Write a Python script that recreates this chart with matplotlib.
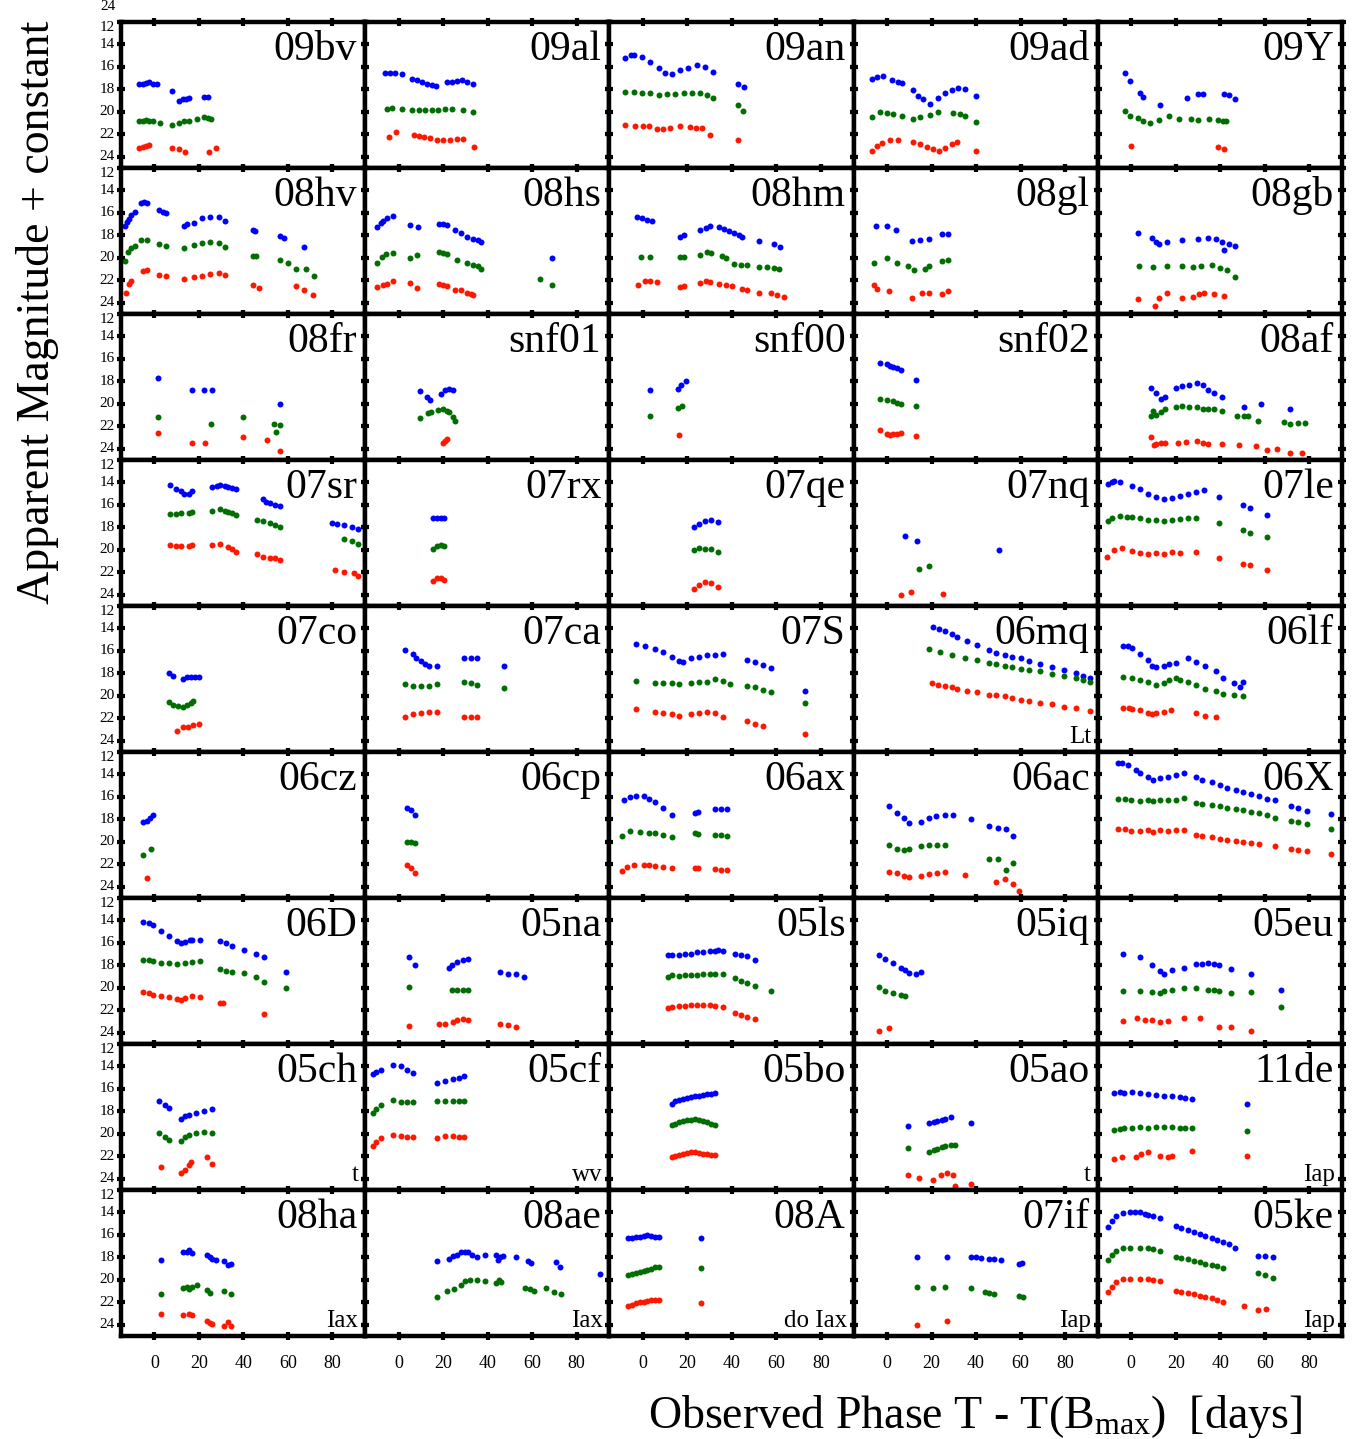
import matplotlib
matplotlib.use('Agg')
import matplotlib.pyplot as plt

plt.rcParams['font.family'] = ['Liberation Serif', 'DejaVu Serif']
plt.rcParams['mathtext.fontset'] = 'custom'
plt.rcParams['mathtext.rm'] = 'Liberation Serif'
plt.rcParams['mathtext.it'] = 'Liberation Serif:italic'

# ---------------- data: (phase [days], magnitude) ----------------
b_09bv = [(-6.7,17.55),(-5.2,17.5),(-3.7,17.45),(-2.2,17.35),(-0.7,17.5),(1.0,17.55),(7.9,18.1),(10.9,19.0),(12.7,18.9),(14.2,18.85),(15.7,18.8),(22.4,18.7),(23.9,18.65)]
g_09bv = [(-6.7,20.85),(-5.2,20.8),(-3.7,20.75),(-2.2,20.8),(-0.7,20.8),(2.7,21.0),(7.9,21.15),(10.9,21.0),(13.5,20.8),(15.5,20.8),(19,20.6),(22.4,20.45),(23.9,20.55),(25.4,20.65)]
r_09bv = [(-6.7,23.25),(-5.2,23.15),(-3.7,23.05),(-2.2,22.95),(7.9,23.2),(10.9,23.35),(13.9,23.6),(24.6,23.6),(27.6,23.25)]

b_09al = [(-6.0,16.55),(-3.7,16.55),(-1.5,16.55),(1.5,16.6),(6,17.1),(8.2,17.2),(10.4,17.35),(12.7,17.5),(14.9,17.65),(16.9,17.7),(21.6,17.35),(23.9,17.3),(26.1,17.25),(28.4,17.2),(30.6,17.35),(33.6,17.5)]
g_09al = [(-5.2,19.75),(-3,19.7),(1.5,19.75),(6,19.8),(9,19.8),(11.9,19.85),(14.9,19.85),(17.9,19.8),(20.9,19.75),(23.9,19.75),(29.1,19.8),(33.6,20.0)]
r_09al = [(-4.5,22.25),(-1,21.8),(6.7,22.1),(9,22.15),(11.2,22.2),(14.2,22.3),(17.2,22.5),(20.1,22.55),(23.1,22.5),(26.1,22.45),(29.1,22.4),(33.9,23.1)]

b_09an = [(-7.8,15.2),(-5.5,14.95),(-4.1,14.9),(-0.4,15.15),(3.4,15.55),(7.1,16.1),(10.1,16.5),(13.1,16.6),(16.8,16.25),(20.5,16.1),(24.3,15.85),(28,16.0),(31.7,16.45),(42.9,17.55),(45.6,17.75)]
g_09an = [(-7.8,18.2),(-4.1,18.2),(-0.4,18.3),(3.4,18.3),(7.1,18.5),(10.8,18.45),(14.6,18.4),(18.3,18.35),(22.0,18.3),(25.7,18.35),(28.7,18.5),(31.7,18.75),(42.9,19.4),(45.1,19.9)]
r_09an = [(-7.8,21.15),(-3.4,21.25),(0,21.3),(2.6,21.3),(6.3,21.55),(9.3,21.5),(12.3,21.4),(16.8,21.3),(21.3,21.35),(24,21.4),(26.5,21.45),(30.2,22.1),(42.9,22.55)]

b_09ad = [(-6.8,17.05),(-4.6,16.9),(-1.6,16.8),(2.2,17.15),(5.1,17.3),(6.6,17.45),(11.9,18.05),(14.1,18.6),(16.3,18.9),(19.3,19.3),(23.1,18.8),(26,18.3),(29,18.05),(32,17.9),(35,18.0),(40.2,18.6)]
g_09ad = [(-6.8,20.5),(-3.1,20.0),(0.2,20.1),(2.9,20.2),(6.6,20.35),(11.9,20.65),(15,20.5),(19.3,20.3),(23,20.05),(29.7,20.1),(32.7,20.2),(35,20.35),(40.2,20.9)]
r_09ad = [(-6.8,23.45),(-4.6,23.0),(-2.3,22.8),(1.4,22.5),(5.1,22.5),(11.9,22.7),(15,22.9),(18,23.1),(20.8,23.3),(23.3,23.45),(26,23.2),(29,22.9),(31.5,22.7),(40,23.45)]

b_09Y = [(-2.9,16.5),(-0.7,17.25),(3.8,18.3),(5.3,18.65),(13.1,19.35),(25.0,18.8),(29.9,18.45),(32.2,18.45),(41.9,18.45),(44.1,18.5),(46.8,18.85)]
g_09Y = [(-2.9,19.9),(-0.7,20.35),(3.1,20.55),(5.3,20.85),(8.3,21.0),(12.5,20.7),(17.2,20.35),(21.4,20.65),(27.0,20.6),(29.9,20.7),(35.1,20.65),(38.8,20.75),(41.2,20.85),(42.6,20.85)]
r_09Y = [(-0.1,23.0),(38.9,23.15),(41.9,23.3)]

b_08hv = [(-13.4,17.2),(-12.5,16.8),(-11.5,16.5),(-10.6,16.2),(-8.8,15.95),(-6.1,15.1),(-4.7,15.05),(-3.3,15.15),(2.2,15.75),(4.0,15.9),(5.0,16.05),(13.2,17.15),(14.8,17.0),(17.8,16.9),(21.5,16.45),(25.1,16.35),(28.8,16.4),(31.6,16.7),(44.4,17.55),(45.0,17.6),(56.3,18.05),(58.2,18.2),(67.0,19.0)]
g_08hv = [(-13.4,20.3),(-12,19.5),(-10.6,19.15),(-8.8,18.95),(-6.1,18.45),(-3.3,18.4),(2.2,18.8),(5.0,18.95),(13.2,19.1),(17.8,18.85),(21.5,18.7),(25.1,18.6),(28.8,18.65),(31.6,19.05),(44.4,19.8),(45.5,19.8),(56.3,20.2),(59.9,20.45),(63.7,20.95),(68.3,21.0),(71.9,21.6)]
r_08hv = [(-12.8,23.15),(-11.5,22.35),(-10.6,22.1),(-5.1,21.2),(-3.3,21.05),(2.2,21.5),(5.0,21.65),(13.2,21.85),(17.8,21.7),(21.5,21.6),(25.1,21.45),(28.8,21.35),(31.6,21.5),(44.4,22.45),(47.2,22.65),(63.7,22.55),(67.0,22.85),(71.4,23.3)]

b_08hs = [(-9.5,17.25),(-7.8,16.9),(-6.8,16.7),(-5,16.45),(-2.6,16.3),(5.1,17.1),(8.8,17.25),(18,16.95),(19.8,17.0),(21.7,17.1),(25.3,17.5),(28.1,17.75),(30.8,18.1),(33.6,18.3),(35.5,18.45),(37.2,18.6),(69.0,20.0)]
g_08hs = [(-9.5,20.45),(-7.5,19.9),(-5.5,19.65),(-2.6,19.55),(5.1,20.05),(8.4,19.75),(18,19.45),(19.8,19.55),(21.7,19.7),(26.2,20.15),(30.8,20.5),(33.6,20.6),(35.5,20.7),(37.2,20.95),(63.5,21.85),(69.0,22.45)]
r_08hs = [(-9.5,22.6),(-6.8,22.45),(-5.0,22.3),(-2.6,22.05),(5.1,22.2),(8.4,22.65),(18.0,22.35),(19.8,22.45),(21.7,22.55),(25.3,22.85),(28.1,22.85),(30.8,23.1),(32.7,23.2),(33.6,23.3)]

b_08hm = [(-2.5,16.35),(-0.3,16.45),(1.9,16.6),(4.2,16.7),(16.9,18.15),(18.4,18.0),(25.9,17.55),(28.2,17.35),(30.4,17.15),(34.2,17.25),(36.4,17.4),(38.7,17.6),(40.9,17.8),(43.2,17.95),(44.7,18.15),(52.2,18.5),(58.9,18.8),(61.6,19.0)]
g_08hm = [(-1.0,19.95),(3.4,19.95),(16.9,19.95),(18.4,19.9),(25.9,19.75),(29,19.5),(30.5,19.6),(35.7,19.85),(37.2,20.05),(40.9,20.55),(43.9,20.65),(46.9,20.6),(52.2,20.8),(55.9,20.85),(58.9,20.9),(61.2,20.95)]
r_08hm = [(-2.2,22.45),(1.2,22.1),(3.4,22.05),(6.3,22.15),(16.9,22.6),(18.4,22.55),(25.9,22.25),(28.2,22.1),(30.4,22.15),(34.2,22.35),(37.2,22.4),(40.1,22.5),(44.7,22.75),(46.9,22.85),(52.2,23.1),(57.4,23.15),(60.4,23.35),(63.4,23.45)]

b_08gl = [(-4.9,17.15),(-0.2,17.2),(4.0,17.55),(11.2,18.5),(15.0,18.45),(18.8,18.3),(24.5,17.9),(27.3,17.85)]
g_08gl = [(-5.9,20.45),(-0.2,20.0),(4.6,20.5),(9.3,20.7),(12.1,21.05),(16.9,21.0),(18.8,20.75),(24.5,20.3),(27.3,20.15)]
r_08gl = [(-5.9,22.45),(-4.3,22.75),(0.8,22.95),(11.2,23.55),(15.9,23.15),(18.8,23.1),(24.5,23.2),(27.3,22.95)]

b_08gb = [(3.0,17.75),(9.3,18.25),(11,18.55),(12.5,18.75),(16.3,18.6),(23.0,18.4),(30.2,18.3),(34.3,18.25),(38.1,18.3),(41.0,18.55),(41.9,19.3),(43.8,18.75),(46.7,18.95)]
g_08gb = [(3.6,20.7),(9.7,20.8),(16.3,20.75),(23.0,20.75),(27.7,20.85),(31.5,20.7),(36.2,20.6),(40.0,20.9),(43,21.1),(46.7,21.7)]
r_08gb = [(3.0,23.7),(10.6,24.3),(12.5,23.55),(16.3,23.15),(23,23.55),(27.7,23.5),(30.5,23.2),(32.5,23.15),(37.2,23.2),(41.9,23.4)]

b_08fr = [(1.8,17.7),(16.9,18.8),(22.4,18.8),(26.1,18.8),(56.3,20.05)]
g_08fr = [(1.8,21.15),(25.5,21.8),(39.8,21.2),(53.6,21.75),(54.5,22.5),(56.3,21.85)]
r_08fr = [(1.8,22.6),(16.9,23.5),(22.9,23.5),(39.8,22.95),(50.5,23.25),(56.3,24.2)]

b_snf01 = [(9.4,18.85),(12.8,19.35),(13.9,19.7),(18.9,19.1),(20.7,18.8),(22.6,18.7),(24.4,18.8)]
g_snf01 = [(9.4,21.25),(13.4,20.85),(14.7,20.75),(17.6,20.55),(19.8,20.5),(21.7,20.6),(22.6,20.75),(24.4,21.15),(25.3,21.55)]
r_snf01 = [(19.8,23.45),(21.0,23.3),(21.7,23.1)]

b_snf00 = [(3.1,18.8),(15.7,18.7),(17.2,18.35),(19.2,18.0)]
g_snf00 = [(3.1,21.05),(15.7,20.4),(17.7,20.2)]
r_snf00 = [(16.2,22.75)]

b_snf02 = [(-3.0,16.4),(-0.2,16.45),(1.5,16.6),(2.7,16.7),(4.6,16.85),(6.5,17.0),(13.1,17.9)]
g_snf02 = [(-3.0,19.55),(-0.2,19.65),(2.7,19.75),(4.6,19.9),(6.5,20.0),(13.1,20.15)]
r_snf02 = [(-3.0,22.3),(-0.2,22.65),(1.5,22.75),(2.7,22.7),(4.6,22.65),(6.5,22.6),(13.1,22.9)]

b_08af = [(8.7,18.55),(11.2,19.0),(13.5,19.6),(15.4,19.35),(20.1,18.6),(23.0,18.4),(25.8,18.35),(29.6,18.1),(32.4,18.3),(34.3,18.75),(37.2,19.0),(41.0,19.4),(50.5,20.3),(58.1,20.0),(71.3,20.45)]
g_08af = [(8.7,21.05),(10,20.6),(11.2,21.0),(13.5,20.7),(15.4,20.5),(20.1,20.25),(23.0,20.2),(25.8,20.25),(29.6,20.3),(32.4,20.45),(34.3,20.5),(37.2,20.5),(41.0,20.6),(47.7,21.1),(50.5,21.05),(52.4,21.1),(57.1,21.5),(68.5,21.65),(71.3,21.8),(75,21.7),(77.9,21.7)]
r_08af = [(8.7,22.95),(10.4,23.7),(11.2,23.6),(13.5,23.5),(15.4,23.45),(21.1,23.45),(24.8,23.4),(29.6,23.3),(32.4,23.45),(34.3,23.6),(41.0,23.6),(48.6,23.65),(56.2,23.75),(60.9,24.15),(65.6,24.05),(71.3,24.35),(76.9,24.4)]

b_07sr = [(7.1,14.25),(9.5,14.55),(11.8,14.8),(13.5,15.0),(15.4,15.0),(17.1,14.8),(26.1,14.4),(28,14.3),(29.6,14.25),(31.5,14.3),(33.2,14.4),(35,14.5),(36.8,14.6),(48.6,15.5),(50,15.7),(52.1,15.85),(54,16.0),(56.4,16.1),(79.6,17.6),(82,17.7),(85.0,17.8),(88.6,18.0),(91.4,18.15)]
g_07sr = [(7.1,16.8),(9.5,16.8),(11.8,16.75),(15.4,16.7),(17.1,16.65),(26.1,16.5),(29.6,16.4),(31.5,16.5),(33.2,16.6),(35,16.75),(36.8,16.9),(46,17.3),(48.6,17.45),(52.1,17.6),(54,17.8),(56.4,17.95),(85.0,19.0),(88.6,19.2),(91.4,19.45)]
r_07sr = [(7.1,19.6),(9.5,19.7),(11.8,19.7),(15.4,19.65),(17.1,19.6),(26.1,19.55),(29.6,19.5),(33.2,19.75),(35,19.95),(36.8,20.15),(46,20.4),(48.6,20.6),(52.1,20.7),(54,20.75),(56.4,20.9),(81,21.8),(85,22.0),(89.5,22.05),(91.4,22.35)]

b_07rx = [(15.4,17.2),(17.1,17.15),(18.9,17.15),(20.5,17.2)]
g_07rx = [(15.4,19.95),(17.1,19.7),(18.9,19.6),(20.5,19.7)]
r_07rx = [(15.4,22.75),(17.1,22.55),(18.9,22.5),(20.5,22.65)]

b_07qe = [(22.9,18.0),(25.4,17.7),(27.9,17.45),(30.7,17.35),(33.6,17.55)]
g_07qe = [(22.9,20.0),(25.4,19.85),(27.9,19.9),(30.7,19.95),(33.6,20.2)]
r_07qe = [(22.9,23.45),(25.4,23.1),(27.9,22.9),(30.7,22.95),(33.6,23.35)]

b_07nq = [(8.2,18.8),(13.6,19.2),(50.4,20.05)]
g_07nq = [(14.3,21.7),(18.9,21.4)]
r_07nq = [(6.4,24.0),(10.7,23.75),(25.0,23.9)]

b_07le = [(-10.4,14.1),(-8.5,13.95),(-7.5,13.9),(-5.0,13.95),(0.4,14.3),(3.9,14.6),(7.5,15.0),(11.1,15.3),(14.6,15.5),(18.2,15.4),(21.8,15.2),(25.4,15.05),(28.9,14.85),(32.5,14.65),(39.6,15.3),(50.4,16.05),(53.2,16.25),(61.1,16.9)]
g_07le = [(-10.4,17.45),(-8.5,17.15),(-5.0,17.0),(-2,17.05),(0.4,17.1),(3.9,17.2),(7.5,17.3),(11.1,17.35),(14.6,17.4),(18.2,17.3),(21.8,17.25),(25.4,17.2),(28.9,17.2),(39.6,17.6),(50.4,18.25),(53.2,18.5),(61.1,18.9)]
r_07le = [(-11,20.65),(-7.5,20.0),(-4,19.85),(0.4,20.1),(3.9,20.25),(7.5,20.35),(11.1,20.3),(14.6,20.35),(18.2,20.2),(21.8,20.25),(28.9,20.15),(39.6,20.75),(50.4,21.3),(53.2,21.35),(61.1,21.8)]

b_07co = [(6.4,18.0),(8.2,18.25),(12.9,18.5),(14.5,18.3),(16.4,18.3),(18.2,18.3),(20,18.3)]
g_07co = [(6.4,20.55),(8.2,20.8),(10.6,20.9),(12.9,20.95),(14.5,20.85),(16.4,20.65),(17.5,20.5)]
r_07co = [(10,23.1),(12.9,22.8),(15,22.75),(17.5,22.6),(20,22.5)]

b_07ca = [(2.9,15.95),(6.4,16.3),(8,16.6),(10.0,16.9),(11.8,17.2),(13.6,17.3),(17.1,17.3),(29.6,16.65),(32.5,16.6),(35.0,16.65),(47.5,17.3)]
g_07ca = [(2.9,18.95),(6.4,19.1),(10.0,19.15),(13.6,19.1),(17.1,18.95),(29.6,18.8),(32.5,18.9),(35.0,19.05),(47.5,19.3)]
r_07ca = [(2.9,21.85),(6.4,21.6),(10.0,21.5),(13.6,21.45),(17.1,21.45),(29.6,21.85),(32.5,21.85),(35,21.85)]

b_07S = [(-3.2,15.4),(1.0,15.6),(5.7,15.85),(9.3,16.1),(12.9,16.5),(16.4,16.9),(18.2,16.95),(21.8,16.6),(25.4,16.5),(28.9,16.4),(32.5,16.35),(36.1,16.3),(46.8,16.8),(50.4,17.0),(53.9,17.25),(57.5,17.55),(72.9,19.6)]
g_07S = [(-3.2,18.7),(5.7,18.85),(9.3,18.9),(12.9,18.9),(16.4,18.95),(21.8,18.85),(25.4,18.75),(28.9,18.75),(32.5,18.5),(36.1,18.7),(39,18.95),(46.8,19.1),(50.4,19.2),(53.9,19.5),(57.5,19.7),(72.9,20.65)]
r_07S = [(-3.2,21.2),(5.7,21.4),(9.3,21.55),(12.9,21.65),(16.4,21.75),(21.8,21.65),(25.4,21.5),(28.9,21.45),(32.5,21.5),(36.1,21.9),(46.8,22.25),(50.4,22.55),(53.9,22.7),(72.9,23.4)]

b_06mq = [(20.7,13.87),(23.5,14.05),(26.1,14.25),(29,14.5),(31.4,14.75),(36,15.1),(40.4,15.43),(45.7,15.93),(49,16.15),(52.9,16.38),(56,16.5),(60.0,16.67),(64,16.9),(68.9,17.12),(74.3,17.41),(79.6,17.7),(85.0,18.0),(88,18.2),(91.4,18.44)]
g_06mq = [(19,15.8),(24,16.1),(29,16.35),(35,16.6),(40.4,16.85),(45.7,17.05),(49,17.2),(52.9,17.3),(56,17.45),(60.0,17.6),(64,17.7),(68.9,17.8),(74.3,18.05),(79.6,18.2),(85.0,18.45),(88,18.6),(91.4,18.75)]
r_06mq = [(20,18.85),(23,19.0),(26.1,19.1),(29,19.25),(31.4,19.35),(36,19.55),(40.4,19.7),(45.7,19.9),(49,19.95),(52.9,20.05),(56,20.2),(60.0,20.35),(64,20.45),(68.9,20.6),(74.3,20.75),(79.6,20.95),(85.0,21.1),(91.4,21.35)]

b_06lf = [(-3.9,15.55),(-1.5,15.6),(0.4,15.75),(3.9,16.3),(7.5,16.85),(9.5,17.3),(11.1,17.4),(14.6,17.3),(17,17.2),(20.0,17.05),(25.4,16.6),(28.9,16.95),(33.2,17.35),(37.9,17.75),(41.4,18.4),(46.1,18.9),(49,19.2),(50.4,18.75)]
g_06lf = [(-3.9,18.3),(0.4,18.45),(3.9,18.6),(7.5,18.75),(11.1,19.0),(14.6,18.85),(17,18.6),(20,18.4),(22,18.6),(25.4,18.75),(28.9,19.05),(33.2,19.35),(37.9,19.55),(41.4,19.8),(46.1,19.9),(50.4,20.0)]
r_06lf = [(-3.9,21.1),(-1,21.05),(0.4,21.2),(3.9,21.3),(7.5,21.5),(9.5,21.65),(11.1,21.5),(14.6,21.4),(18,21.3),(28.9,21.55),(33.2,21.75),(37.9,21.9)]

b_06cz = [(-5.0,18.2),(-3.5,18.1),(-2.0,17.85),(-0.7,17.6)]
g_06cz = [(-5.0,21.2),(-1.4,20.65)]
r_06cz = [(-3.2,23.25)]

b_06cp = [(3.9,17.0),(5.5,17.15),(7.5,17.6)]
g_06cp = [(3.9,20.0),(5.5,20.05),(7.5,20.1)]
r_06cp = [(3.9,22.05),(5.5,22.3),(7.5,22.75)]

b_06ax = [(-8.6,16.25),(-5.7,16.0),(-3.2,15.9),(0.4,15.95),(3,16.2),(5.7,16.45),(9.3,16.95),(12.9,17.6),(23.6,17.4),(25,17.3),(32.5,17.1),(35,17.05),(37.9,17.05)]
g_06ax = [(-9.3,19.5),(-5.7,19.0),(-1.4,19.15),(3,19.2),(5.7,19.25),(9.3,19.4),(12.9,19.55),(23.6,19.2),(25,19.3),(32.5,19.35),(35,19.4),(37.9,19.5)]
r_06ax = [(-9.3,22.6),(-7,22.2),(-4,22.05),(0.4,22.05),(3,22.1),(5.7,22.15),(9.3,22.2),(12.9,22.3),(23.6,22.35),(25,22.3),(32.5,22.45),(35,22.5),(37.9,22.55)]

b_06ac = [(1.1,16.85),(4.6,17.4),(7.5,17.9),(10,18.3),(15.4,18.2),(18.9,17.85),(22,17.7),(26.1,17.6),(29.6,17.65),(37.9,17.95),(45.7,18.55),(50,18.8),(53.6,18.9),(56.4,19.45)]
g_06ac = [(1.1,20.3),(4.6,20.6),(7.5,20.75),(10,20.65),(15.4,20.35),(18.9,20.25),(22.5,20.3),(26.1,20.25),(45.7,21.5),(50,21.5),(53.6,22.5),(56.4,21.9)]
r_06ac = [(1.1,22.7),(4.6,22.8),(7.5,23.0),(10,23.1),(15.4,23.0),(18.9,22.9),(22.5,22.8),(26.1,22.7),(35,22.95),(49,23.6),(52.9,23.3),(56.4,23.75),(59.3,24.35)]

b_06X = [(-6.1,13.0),(-4,12.95),(-1.4,13.2),(2,13.6),(3.9,13.85),(7.5,14.25),(10,14.45),(12.9,14.35),(16.4,14.25),(20,14.05),(23.6,13.9),(28.9,14.2),(32,14.45),(36.1,14.7),(40,14.95),(43.2,15.2),(47,15.35),(50.4,15.55),(54,15.75),(57.5,15.95),(61,16.15),(64.6,16.3),(71.8,16.85),(75,17.0),(78.9,17.25),(89.6,17.55)]
g_06X = [(-6.1,16.15),(-3,16.2),(0,16.25),(3.9,16.35),(7.5,16.3),(10,16.4),(12.9,16.3),(16.4,16.25),(20,16.3),(23.6,16.1),(28.9,16.5),(32,16.65),(36.1,16.75),(40,16.85),(43.2,17.0),(47,17.1),(50.4,17.2),(54,17.3),(57.5,17.45),(61,17.6),(64.6,17.85),(71.8,18.1),(75,18.25),(78.9,18.4),(89.6,18.9)]
r_06X = [(-6.1,18.85),(-3,18.9),(0,19.0),(3.9,19.05),(7.5,18.95),(10,19.1),(12.9,18.95),(16.4,19.0),(20,18.95),(23.6,18.95),(28.9,19.4),(32,19.5),(36.1,19.55),(40,19.75),(43.2,19.8),(47,19.9),(50.4,20.05),(54,20.1),(57.5,20.15),(64.6,20.35),(71.8,20.6),(75,20.75),(78.9,20.85),(89.6,21.1)]

b_06D = [(-5.0,14.15),(-2.5,14.25),(-0.7,14.4),(2.9,14.9),(6.4,15.4),(10,15.8),(12,16.0),(13.6,15.9),(16,15.75),(17.1,15.7),(20.7,15.7),(29.6,15.85),(32,16.05),(35,16.3),(40.4,16.6),(45.7,16.95),(49.3,17.25),(59.3,18.55)]
g_06D = [(-5.0,17.5),(-2.5,17.55),(-0.7,17.65),(2.9,17.75),(6.4,17.8),(10,17.85),(13.6,17.75),(17.1,17.7),(20.7,17.65),(29.6,18.35),(32,18.5),(35,18.55),(40.4,18.7),(45.7,19.0),(49.3,19.45),(59.3,20.05)]
r_06D = [(-5.0,20.4),(-2.5,20.5),(-0.7,20.6),(2.9,20.75),(6.4,20.85),(10,21.0),(12,21.05),(13.6,20.9),(17.1,20.75),(20.7,20.8),(29.6,21.35),(31,21.35),(49.3,22.3)]

b_05na = [(4.6,17.25),(7.5,17.95),(22.5,18.2),(24,18.0),(26.1,17.7),(28.9,17.55),(31.4,17.4),(45.7,18.55),(49.3,18.8),(52.9,18.75),(56.4,19.0)]
g_05na = [(4.6,19.95),(24,20.15),(26.1,20.15),(28.9,20.15),(31,20.15)]
r_05na = [(4.6,23.4),(18.2,23.25),(21,23.2),(24.4,23.05),(26.1,22.9),(28.9,22.75),(31,22.9),(45.7,23.25),(49.3,23.35),(52.9,23.5)]

b_05ls = [(11.1,17.05),(13,17.1),(16.4,17.05),(19,17.0),(21.8,16.95),(24.5,16.85),(27.1,16.8),(30,16.7),(32.5,16.75),(34,16.65),(36.1,16.7),(41.4,16.95),(44,17.1),(46.8,17.2),(50.4,17.5)]
g_05ls = [(11.1,19.0),(13,18.9),(16.4,18.95),(19,18.85),(21.8,18.85),(24.5,18.9),(27.1,18.8),(30,18.75),(32.5,18.8),(36.1,18.75),(41.4,19.1),(44,19.35),(46.8,19.55),(50.4,19.8),(57.5,20.25)]
r_05ls = [(11.1,21.8),(13,21.7),(16.4,21.65),(19,21.6),(21.8,21.55),(24.5,21.55),(27.1,21.5),(30,21.55),(32.5,21.6),(36.1,21.7),(41.4,22.2),(44,22.45),(46.8,22.6),(50.4,22.75)]

b_05iq = [(-3.6,17.05),(-0.7,17.45),(2.9,17.8),(6.4,18.2),(8,18.45),(10,18.7),(12.9,18.75),(15.4,18.6)]
g_05iq = [(-3.6,19.95),(-0.7,20.3),(2.9,20.45),(6.4,20.65),(8,20.7)]
r_05iq = [(-3.6,23.8),(1.1,23.6)]

b_05eu = [(-3.9,17.0),(3.9,17.25),(9.3,18.0),(12.9,18.5),(14.6,18.75),(18.2,18.45),(23.6,18.2),(28.9,17.9),(32,17.85),(34.3,17.8),(37,17.9),(39.6,17.95),(45.0,18.3),(53.9,18.8),(67.5,20.2)]
g_05eu = [(-3.9,20.3),(3.9,20.25),(9.3,20.4),(12.9,20.45),(14.6,20.3),(18.2,20.2),(23.6,20.05),(28.9,20.05),(34.3,20.15),(37,20.2),(39.6,20.3),(45,20.45),(53.9,20.4),(67.5,21.7)]
r_05eu = [(-3.9,22.95),(2.5,22.65),(6,22.9),(9.3,22.85),(12.9,23.05),(16.4,22.95),(23.6,22.65),(30.7,22.65),(39.6,23.5),(45.0,23.5),(53.9,23.8)]

b_05ch = [(2.1,17.05),(4.6,17.4),(6.4,17.7),(11.8,18.65),(13.6,18.45),(15.4,18.3),(18.9,18.1),(22.5,17.95),(26.1,17.8)]
g_05ch = [(2.1,19.95),(4.6,20.3),(6.4,20.55),(11.8,20.6),(13.6,20.3),(15.4,20.1),(18.9,19.9),(22.5,19.85),(26.1,19.95)]
r_05ch = [(2.9,22.95),(11.8,23.5),(13.6,23.25),(15.4,22.8),(16.5,22.55),(23.6,22.1),(26.1,22.65)]

b_05cf = [(-11.4,14.7),(-10,14.5),(-7.9,14.35),(-2.5,13.85),(1.1,14.0),(3.9,14.3),(6.4,14.55),(17.1,15.45),(20.7,15.3),(24.3,15.1),(27,15.0),(29.6,14.85)]
g_05cf = [(-11.4,18.1),(-10,17.8),(-7.9,17.45),(-2.5,17.0),(1.1,17.15),(3.9,17.2),(6.4,17.2),(17.1,17.1),(20.7,17.05),(24.3,17.05),(27,17.05),(29.6,17.1)]
r_05cf = [(-11.4,21.05),(-10,20.75),(-7.9,20.4),(-2.5,20.1),(1.1,20.15),(3.9,20.25),(6.4,20.25),(17.1,20.35),(20.7,20.2),(24.3,20.15),(27,20.25),(29.6,20.3)]

b_05bo = [(12.9,17.3),(14.5,17.1),(16.4,17.0),(18,16.9),(20,16.8),(21.8,16.7),(23.6,16.65),(25.4,16.6),(27.1,16.55),(29,16.45),(30.7,16.45),(32.5,16.4)]
g_05bo = [(12.9,19.25),(14.5,19.1),(16.4,18.95),(18,18.9),(20,18.8),(21.8,18.75),(23.6,18.7),(25.4,18.75),(27.1,18.85),(29,18.95),(30.7,19.1),(32.5,19.2)]
r_05bo = [(12.9,22.05),(14.5,21.95),(16.4,21.85),(18,21.75),(20,21.7),(21.8,21.65),(23.6,21.65),(25.4,21.7),(27.1,21.75),(29,21.8),(30.7,21.85),(32.5,21.9)]

b_05ao = [(9.3,19.3),(18.9,19.05),(21,18.95),(22.5,18.9),(24.5,18.75),(26.1,18.65),(28.6,18.5),(37.9,19.05)]
g_05ao = [(9.3,21.25),(18.9,21.6),(21,21.45),(22.5,21.35),(24.5,21.2),(26.1,21.1),(28.6,20.95),(30.5,20.95)]
r_05ao = [(9.3,23.7),(14.3,23.9),(20.7,24.1),(24.3,23.65),(27,23.5),(29.6,23.7),(30.7,24.6),(37.9,24.45)]

b_11de = [(-7.5,16.35),(-5,16.3),(-3.2,16.35),(0.4,16.3),(3.9,16.4),(7.5,16.45),(11.1,16.5),(14.6,16.6),(18.2,16.65),(21.8,16.7),(24,16.8),(27.1,16.9),(52.1,17.3)]
g_11de = [(-7.5,19.65),(-5,19.55),(-3.2,19.5),(0.4,19.45),(3.9,19.4),(7.5,19.45),(11.1,19.4),(14.6,19.35),(18.2,19.4),(21.8,19.45),(24,19.45),(27.1,19.5),(52.1,19.75)]
r_11de = [(-7.5,22.2),(-4,22.05),(2,22.05),(4.5,21.8),(7.5,21.6),(12.9,22.0),(16.4,22.1),(18.2,21.95),(27.1,21.55),(52.1,22.0)]

b_08ha = [(2.9,18.2),(12.9,17.55),(14.5,17.5),(15.4,17.35),(17.1,17.6),(23.6,17.8),(25,18.0),(26.1,18.15),(27.9,18.2),(31.4,18.35),(33,18.7),(34.3,18.6)]
g_08ha = [(2.9,21.25),(12.9,20.75),(14.5,20.65),(15.4,20.85),(17.1,20.65),(19,20.5),(23.6,20.9),(25,21.15),(31.4,20.95),(34.3,21.3)]
r_08ha = [(2.9,23.0),(12.9,23.1),(15.4,23.05),(17.1,23.1),(23.6,23.7),(25,23.85),(26.1,23.9),(31.4,24.1),(33,23.75),(34.3,24.1)]

b_08ae = [(17.1,18.35),(22.5,18.1),(24.3,17.9),(26.1,17.75),(27.9,17.55),(30,17.5),(31.4,17.55),(33.2,17.75),(35,17.95),(38.6,17.8),(43.9,17.75),(44.5,18.2),(45.7,17.95),(47,17.9),(52.9,18.0),(58.2,18.35),(59.5,18.5),(70.7,18.4),(72.5,18.85),(90.4,19.5)]
g_08ae = [(17.1,21.5),(21.8,21.0),(25,20.8),(27.9,20.45),(30,20.1),(32,20.05),(35,20.05),(38.6,20.1),(43.9,20.25),(45,20.0),(46,20.15),(57,20.75),(59,20.85),(61,20.95),(66,20.7),(70,21.1),(73,21.25)]
r_08ae = []

b_08A = [(-6.8,16.3),(-5,16.25),(-3.2,16.2),(-1.4,16.15),(0.4,16.1),(2,16.05),(3.9,16.1),(5.7,16.15),(7.5,16.2),(26.1,16.25)]
g_08A = [(-6.8,19.55),(-5,19.5),(-3.2,19.4),(-1.4,19.3),(0.4,19.2),(2,19.1),(3.9,19.0),(5.7,18.9),(7.5,18.85),(26.1,18.95)]
r_08A = [(-6.8,22.35),(-5,22.25),(-3.2,22.1),(-1.4,22.0),(0.4,21.95),(2,21.85),(3.9,21.8),(5.7,21.8),(7.5,21.8),(26.1,22.05)]

b_07if = [(13.6,17.95),(27.1,18.0),(37.9,17.95),(40,18.0),(42.1,18.05),(45.7,18.1),(48,18.15),(51.1,18.25),(59.3,18.6),(60.5,18.5)]
g_07if = [(13.6,20.6),(20.7,20.7),(26.1,20.65),(37.9,20.75),(44,21.05),(45.7,21.2),(48,21.3),(59.3,21.45),(61,21.5)]
r_07if = [(13.6,24.05),(27.1,23.65)]

b_05ke = [(-10.4,15.3),(-8.6,14.8),(-6.8,14.3),(-3.9,14.05),(-0.4,13.95),(1.5,13.95),(3.9,14.0),(6,14.1),(7.5,14.2),(10,14.3),(12.9,14.5),(20.0,15.2),(22.5,15.4),(25.4,15.6),(28,15.75),(30.7,15.95),(33,16.1),(36.1,16.25),(38.5,16.45),(41.4,16.6),(44,16.8),(46.8,17.15),(56.8,17.85),(60,17.85),(63.9,18.0)]
g_05ke = [(-10.4,18.2),(-8.6,17.8),(-6.8,17.4),(-3.9,17.2),(-0.4,17.15),(3.9,17.15),(7.5,17.2),(10,17.25),(12.9,17.4),(20.0,17.95),(22.5,18.05),(25.4,18.15),(28,18.3),(30.7,18.45),(33,18.55),(36.1,18.65),(38.5,18.75),(41.4,18.95),(56.8,19.35),(60,19.6),(63.9,19.8)]
r_05ke = [(-10.4,21.1),(-8.6,20.65),(-6.8,20.15),(-3.9,19.95),(-0.4,19.9),(3.9,19.95),(7.5,19.95),(10,20.0),(12.9,20.1),(20.0,21.0),(22.5,21.1),(25.4,21.2),(28,21.3),(30.7,21.4),(33,21.55),(36.1,21.65),(38.5,21.8),(41.4,21.95),(50.7,22.3),(56.8,22.65),(60.5,22.6)]

# panel order (row by row) and bottom-right type tags
names = ["09bv","09al","09an","09ad","09Y",
         "08hv","08hs","08hm","08gl","08gb",
         "08fr","snf01","snf00","snf02","08af",
         "07sr","07rx","07qe","07nq","07le",
         "07co","07ca","07S","06mq","06lf",
         "06cz","06cp","06ax","06ac","06X",
         "06D","05na","05ls","05iq","05eu",
         "05ch","05cf","05bo","05ao","11de",
         "08ha","08ae","08A","07if","05ke"]
tags = {"06mq": "Lt", "05ch": "t", "05cf": "wv", "05ao": "t", "11de": "Iap",
        "08ha": "Iax", "08ae": "Iax", "08A": "do Iax", "07if": "Iap", "05ke": "Iap"}
x_ticks = [0, 20, 40, 60, 80]
y_ticks = [12, 14, 16, 18, 20, 22, 24]

BLUE, GREEN, RED = '#0000ff', '#006e00', '#ff1800'

W, H = 1362, 1439
fig = plt.figure(figsize=(W/100, H/100), dpi=100)
gs = fig.add_gridspec(9, 5, left=121/W, right=1342/W, top=1-22/H, bottom=1-1336/H,
                      hspace=0, wspace=0)

g = globals()
for i, name in enumerate(names):
    row, col = divmod(i, 5)
    ax = fig.add_subplot(gs[row, col])
    for prefix, color in (("b_", BLUE), ("g_", GREEN), ("r_", RED)):
        pts = g[prefix + name]
        if pts:
            xs, ys = zip(*pts)
            ax.plot(xs, ys, 'o', ms=4.3, mec='none', color=color, clip_on=False)
    ax.set_xlim(-15, 94.7)
    ax.set_ylim(25.0, 12.0)
    ax.set_xticks(x_ticks)
    ax.set_yticks(y_ticks)
    ax.tick_params(direction='inout', length=6, width=3, top=True, right=True,
                   labelsize=13, color='black')
    ax.tick_params(axis='x', pad=11)
    ax.set_yticklabels([])
    if row < 8:
        ax.set_xticklabels([])
    for sp in ax.spines.values():
        sp.set_linewidth(3.2)
    if col == 0:
        # the top "12" label sits just inside the panel, as in the original
        for v in y_ticks:
            ax.text(-0.025, 12.5 if v == 12 else v, str(v),
                    transform=ax.get_yaxis_transform(),
                    ha='right', va='center', fontsize=11)
    ax.text(0.967, 0.945, name, transform=ax.transAxes, ha='right', va='top',
            fontsize=30)
    if name in tags:
        ax.text(0.972, 0.062, tags[name], transform=ax.transAxes, ha='right',
                va='baseline', fontsize=18)

fig.text(116/W, 1-7/H, "24", ha='right', va='center', fontsize=11)
fig.text(38/W, 1-312/H, "Apparent Magnitude + constant", rotation=90,
         ha='center', va='center', fontsize=33)
fig.text(975/W, 1-1428/H, r"Observed Phase T - T(B$_{\mathrm{max}}$)  [days]",
         ha='center', va='baseline', fontsize=33)

fig.savefig("out.png", dpi=100)
